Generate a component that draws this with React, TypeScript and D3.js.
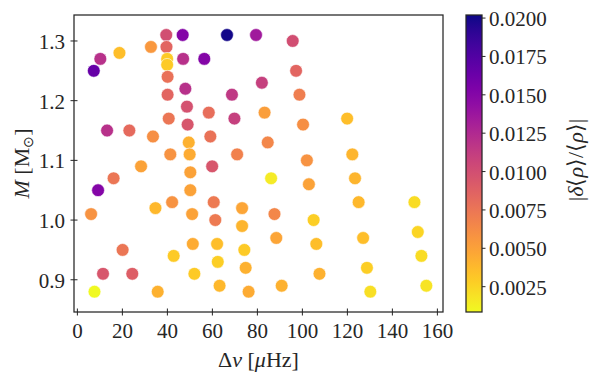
import { useEffect, useRef } from "react";
import * as d3 from "d3";

// large frequency separation (μHz)
const dnu = [
  39.5, 46.8, 66.5, 79.4, 95.7, 32.7, 39.6, 18.7, 10.2, 39.9, 47.0, 56.4, 39.9, 7.3, 97.2,
  40.1, 82.0, 48.0, 40.1, 68.7, 98.7, 48.7, 58.4, 83.2, 40.6, 69.8, 119.9, 49.0, 100.3, 13.2,
  23.1, 33.6, 59.1, 49.5, 84.6, 41.3, 49.9, 71.0, 122.2, 102.0, 28.3, 59.9, 50.2, 16.1, 86.1,
  123.4, 102.9, 9.2, 50.2, 42.1, 60.6, 125.0, 149.8, 34.7, 73.2, 6.1, 51.0, 87.6, 61.3, 105.0,
  73.2, 151.3, 88.4, 127.0, 51.3, 62.1, 106.2, 20.1, 74.2, 42.8, 152.9, 62.4, 74.8, 128.7, 11.4,
  24.4, 52.0, 107.6, 63.2, 90.8, 155.1, 7.6, 35.7, 76.1, 130.2
];
// stellar mass (Msun)
const mass = [
  1.31, 1.31, 1.31, 1.31, 1.30, 1.29, 1.29, 1.28, 1.27, 1.27, 1.27, 1.27, 1.26, 1.25, 1.25,
  1.24, 1.23, 1.22, 1.21, 1.21, 1.21, 1.19, 1.18, 1.18, 1.17, 1.17, 1.17, 1.16, 1.16, 1.15,
  1.15, 1.14, 1.14, 1.13, 1.13, 1.11, 1.11, 1.11, 1.11, 1.10, 1.09, 1.09, 1.08, 1.07, 1.07,
  1.07, 1.06, 1.05, 1.05, 1.03, 1.03, 1.03, 1.03, 1.02, 1.02, 1.01, 1.01, 1.01, 1.00, 1.00,
  0.99, 0.98, 0.97, 0.97, 0.96, 0.96, 0.96, 0.95, 0.95, 0.94, 0.94, 0.93, 0.92, 0.92, 0.91,
  0.91, 0.91, 0.91, 0.89, 0.89, 0.89, 0.88, 0.88, 0.88, 0.88
];
// relative mean density error
const relErr = [
  0.0100, 0.0150, 0.0200, 0.0135, 0.0100, 0.0055, 0.0085, 0.0035, 0.0120, 0.0030, 0.0120, 0.0150, 0.0030, 0.0165, 0.0085,
  0.0078, 0.0110, 0.0120, 0.0085, 0.0115, 0.0070, 0.0098, 0.0080, 0.0052, 0.0075, 0.0110, 0.0035, 0.0095, 0.0060, 0.0120,
  0.0082, 0.0060, 0.0077, 0.0042, 0.0065, 0.0058, 0.0045, 0.0068, 0.0040, 0.0058, 0.0050, 0.0095, 0.0050, 0.0075, 0.0015,
  0.0040, 0.0050, 0.0150, 0.0050, 0.0058, 0.0072, 0.0038, 0.0022, 0.0038, 0.0048, 0.0058, 0.0050, 0.0065, 0.0072, 0.0028,
  0.0040, 0.0025, 0.0048, 0.0035, 0.0045, 0.0035, 0.0035, 0.0075, 0.0030, 0.0030, 0.0022, 0.0028, 0.0042, 0.0028, 0.0095,
  0.0090, 0.0030, 0.0042, 0.0038, 0.0042, 0.0018, 0.0009, 0.0042, 0.0045, 0.0020
];

const xTicks = [0, 20, 40, 60, 80, 100, 120, 140, 160];
const yTicks = [0.9, 1.0, 1.1, 1.2, 1.3];
const cTicks = [0.0025, 0.005, 0.0075, 0.01, 0.0125, 0.015, 0.0175, 0.02];
const cRange = [0.00085, 0.0202];

const FONT = "Liberation Serif";
const INK = "#262626";

export default function App() {
  const ref = useRef<SVGSVGElement>(null);

  useEffect(() => {
    const svg = d3.select(ref.current);
    svg.selectAll("*").remove();

    const width = 599;
    const height = 382;
    svg.attr("width", width).attr("height", height)
      .style("font-family", FONT);

    const left = 74, right = 443, top = 15, bottom = 312;

    const x = d3.scaleLinear().domain([-1.5, 162.5]).range([left, right]);
    const y = d3.scaleLinear().domain([0.846, 1.3435]).range([bottom, top]);

    const [vmin, vmax] = cRange;
    const color = (v: number) => d3.interpolatePlasma(1 - (v - vmin) / (vmax - vmin));

    // points
    const g = svg.append("g");
    dnu.forEach((d, i) => {
      g.append("circle")
        .attr("cx", x(d))
        .attr("cy", y(mass[i]))
        .attr("r", 6.4)
        .attr("fill", color(relErr[i]))
        .attr("stroke", "white")
        .attr("stroke-width", 0.6);
    });

    // frame
    svg.append("rect")
      .attr("x", left)
      .attr("y", top)
      .attr("width", right - left)
      .attr("height", bottom - top)
      .attr("fill", "none")
      .attr("stroke", INK)
      .attr("stroke-width", 1.25);

    // x ticks
    xTicks.forEach(t => {
      svg.append("line")
        .attr("x1", x(t)).attr("x2", x(t))
        .attr("y1", bottom - 3.5).attr("y2", bottom + 3.5)
        .attr("stroke", INK).attr("stroke-width", 1);
      svg.append("text")
        .attr("x", x(t))
        .attr("y", 338)
        .attr("text-anchor", "middle")
        .attr("font-size", 21)
        .attr("fill", INK)
        .text(t);
    });

    // y ticks
    yTicks.forEach(t => {
      svg.append("line")
        .attr("x1", left - 3.5).attr("x2", left + 3.5)
        .attr("y1", y(t)).attr("y2", y(t))
        .attr("stroke", INK).attr("stroke-width", 1);
      svg.append("text")
        .attr("x", 65)
        .attr("y", y(t) + 8)
        .attr("text-anchor", "end")
        .attr("font-size", 21)
        .attr("fill", INK)
        .text(t.toFixed(1));
    });

    // axis labels
    const xl = svg.append("text")
      .attr("x", (left + right) / 2)
      .attr("y", 367)
      .attr("text-anchor", "middle")
      .attr("font-size", 22)
      .attr("fill", INK);
    xl.append("tspan").text("Δ");
    xl.append("tspan").attr("font-style", "italic").text("ν");
    xl.append("tspan").text(" [");
    xl.append("tspan").attr("font-style", "italic").text("μ");
    xl.append("tspan").text("Hz]");

    const yl = svg.append("text")
      .attr("transform", `translate(29,${(top + bottom) / 2}) rotate(-90)`)
      .attr("text-anchor", "middle")
      .attr("font-size", 22)
      .attr("fill", INK);
    yl.append("tspan").attr("font-style", "italic").text("M");
    yl.append("tspan").text(" [M");
    yl.append("tspan").attr("font-size", 14).attr("dy", 4).text("⊙");
    yl.append("tspan").attr("dy", -4).text("]");

    // colorbar
    const cbL = 466, cbR = 482;
    const c = d3.scaleLinear().domain([vmin, vmax]).range([bottom, top]);
    const grad = svg.append("defs").append("linearGradient")
      .attr("id", "cbar")
      .attr("x1", 0).attr("y1", 1).attr("x2", 0).attr("y2", 0);
    d3.range(0, 1.0001, 0.05).forEach(s => {
      grad.append("stop")
        .attr("offset", s)
        .attr("stop-color", d3.interpolatePlasma(1 - s));
    });
    svg.append("rect")
      .attr("x", cbL).attr("y", top)
      .attr("width", cbR - cbL).attr("height", bottom - top)
      .attr("fill", "url(#cbar)")
      .attr("stroke", INK)
      .attr("stroke-width", 1.25);

    cTicks.forEach(t => {
      svg.append("line")
        .attr("x1", cbR).attr("x2", cbR + 3.5)
        .attr("y1", c(t)).attr("y2", c(t))
        .attr("stroke", INK).attr("stroke-width", 1);
      svg.append("text")
        .attr("x", 489)
        .attr("y", c(t) + 8)
        .attr("font-size", 21)
        .attr("fill", INK)
        .text(t.toFixed(4));
    });

    const cl = svg.append("text")
      .attr("transform", `translate(583,160) rotate(-90)`)
      .attr("text-anchor", "middle")
      .attr("font-size", 22)
      .attr("fill", INK);
    cl.append("tspan").text("|");
    cl.append("tspan").attr("font-style", "italic").text("δ");
    cl.append("tspan").text("⟨");
    cl.append("tspan").attr("font-style", "italic").text("ρ");
    cl.append("tspan").text("⟩/⟨");
    cl.append("tspan").attr("font-style", "italic").text("ρ");
    cl.append("tspan").text("⟩|");
  }, []);

  return (
    <svg ref={ref} style={{ position: "absolute", left: 0, top: 0 }}></svg>
  );
}
